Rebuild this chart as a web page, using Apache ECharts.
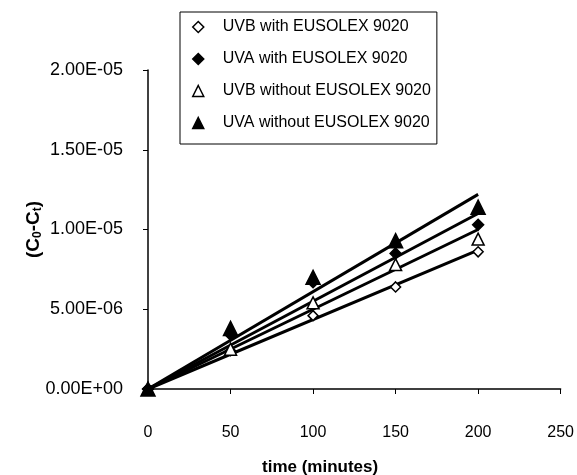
<!DOCTYPE html>
<html><head><meta charset="utf-8">
<script src="https://cdn.jsdelivr.net/npm/echarts@6/dist/echarts.min.js"></script>
<style>html,body{margin:0;padding:0;background:#fff}#c{width:577px;height:475px}</style>
</head><body><div id="c"></div>
<script>
var times = [0, 50, 100, 150, 200];
var seriesNames = ['UVB with EUSOLEX 9020', 'UVA with EUSOLEX 9020', 'UVB without EUSOLEX 9020', 'UVA without EUSOLEX 9020'];
var uvbWith = [0, 2.4e-6, 4.6e-6, 6.4e-6, 8.6e-6];
var uvaWith = [0, 3.4e-6, 6.7e-6, 8.5e-6, 1.03e-5];
var uvbWithout = [0, 2.5e-6, 5.4e-6, 7.8e-6, 9.4e-6];
var uvaWithout = [0, 3.8e-6, 7.0e-6, 9.3e-6, 1.14e-5];
// trendline values at time 0 and time 200
var trendTimes = [0, 200];
var trendUvbWith = [0, 8.7e-6];
var trendUvaWith = [0, 1.1e-5];
var trendUvbWithout = [0, 1.0e-5];
var trendUvaWithout = [0, 1.22e-5];
var xTicks = [0, 50, 100, 150, 200, 250];
var yTicks = ['0.00E+00', '5.00E-06', '1.00E-05', '1.50E-05', '2.00E-05'];

function pair(xs, ys){ return xs.map(function(x,i){ return [x, ys[i]]; }); }
function fmt(v){
  if (v === 0) return '0.00E+00';
  var s = v.toExponential(2).split('e');
  var e = parseInt(s[1],10);
  var sign = e < 0 ? '-' : '+';
  var a = Math.abs(e);
  return s[0] + 'E' + sign + (a < 10 ? '0' + a : '' + a);
}
var font = 'Liberation Sans, Arial, sans-serif';
var markerDefs = [
  {sym:'diamond', size:[10,10], fill:'#fff'},
  {sym:'diamond', size:[11,11], fill:'#000'},
  {sym:'triangle', size:[12,12], fill:'#fff'},
  {sym:'triangle', size:[14,14], fill:'#000'}
];
var pointData = [uvbWith, uvaWith, uvbWithout, uvaWithout];
var trendData = [trendUvbWith, trendUvaWith, trendUvbWithout, trendUvaWithout];
var series = [];
trendData.forEach(function(t, i){
  series.push({type:'line', name:'trend'+i, data:pair(trendTimes, t), showSymbol:false, symbol:'none',
    lineStyle:{color:'#000', width:3}, z:2, silent:true, animation:false});
});
pointData.forEach(function(d, i){
  var m = markerDefs[i];
  series.push({type:'scatter', name:seriesNames[i], data:pair(times, d), symbol:m.sym, symbolSize:m.size,
    itemStyle:{color:m.fill, borderColor:'#000', borderWidth:1.5, opacity:1}, z:3, animation:false});
});
var chart = echarts.init(document.getElementById('c'));
chart.setOption({
  backgroundColor:'#fff',
  animation:false,
  grid:{left:148, right:15, top:70, bottom:86, containLabel:false},
  xAxis:{type:'value', min:0, max:250, interval:50,
    axisLine:{show:true, onZero:false, lineStyle:{color:'#000', width:1.5}},
    axisTick:{show:true, inside:false, length:5, lineStyle:{color:'#000'}},
    axisLabel:{color:'#000', fontFamily:font, fontSize:16, margin:36},
    splitLine:{show:false}},
  yAxis:{type:'value', min:0, max:2e-5, interval:5e-6,
    axisLine:{show:true, lineStyle:{color:'#000', width:1.5}},
    axisTick:{show:true, inside:false, length:5, lineStyle:{color:'#000'}},
    axisLabel:{color:'#000', fontFamily:font, fontSize:18, margin:25, formatter:function(v){ return fmt(v); }},
    splitLine:{show:false},
    name:'{b|(C}{s|0}{b|-C}{s|t}{b|)}', nameLocation:'middle', nameRotate:90, nameGap:104, nameMoveOverlap:false,
    nameTextStyle:{rich:{b:{fontFamily:font, fontWeight:'bold', fontSize:19, color:'#000'},
      s:{fontFamily:font, fontWeight:'bold', fontSize:12, color:'#000', verticalAlign:'bottom', padding:[8,0,0,0]}}}},
  legend:{data:seriesNames, orient:'vertical', left:180, top:12,
    backgroundColor:'#fff', borderColor:'#000', borderWidth:1, padding:[7,6,13,12],
    itemGap:16, itemWidth:11, itemHeight:11, itemStyle:{borderWidth:1.5},
    textStyle:{fontFamily:font, fontSize:16, color:'#000', padding:[0,0,0,14]}},
  graphic:[{type:'text', left:262, top:459, style:{text:'time (minutes)', fontFamily:font, fontWeight:'bold', fontSize:17, fill:'#000'}}],
  series:series
});
</script></body></html>
